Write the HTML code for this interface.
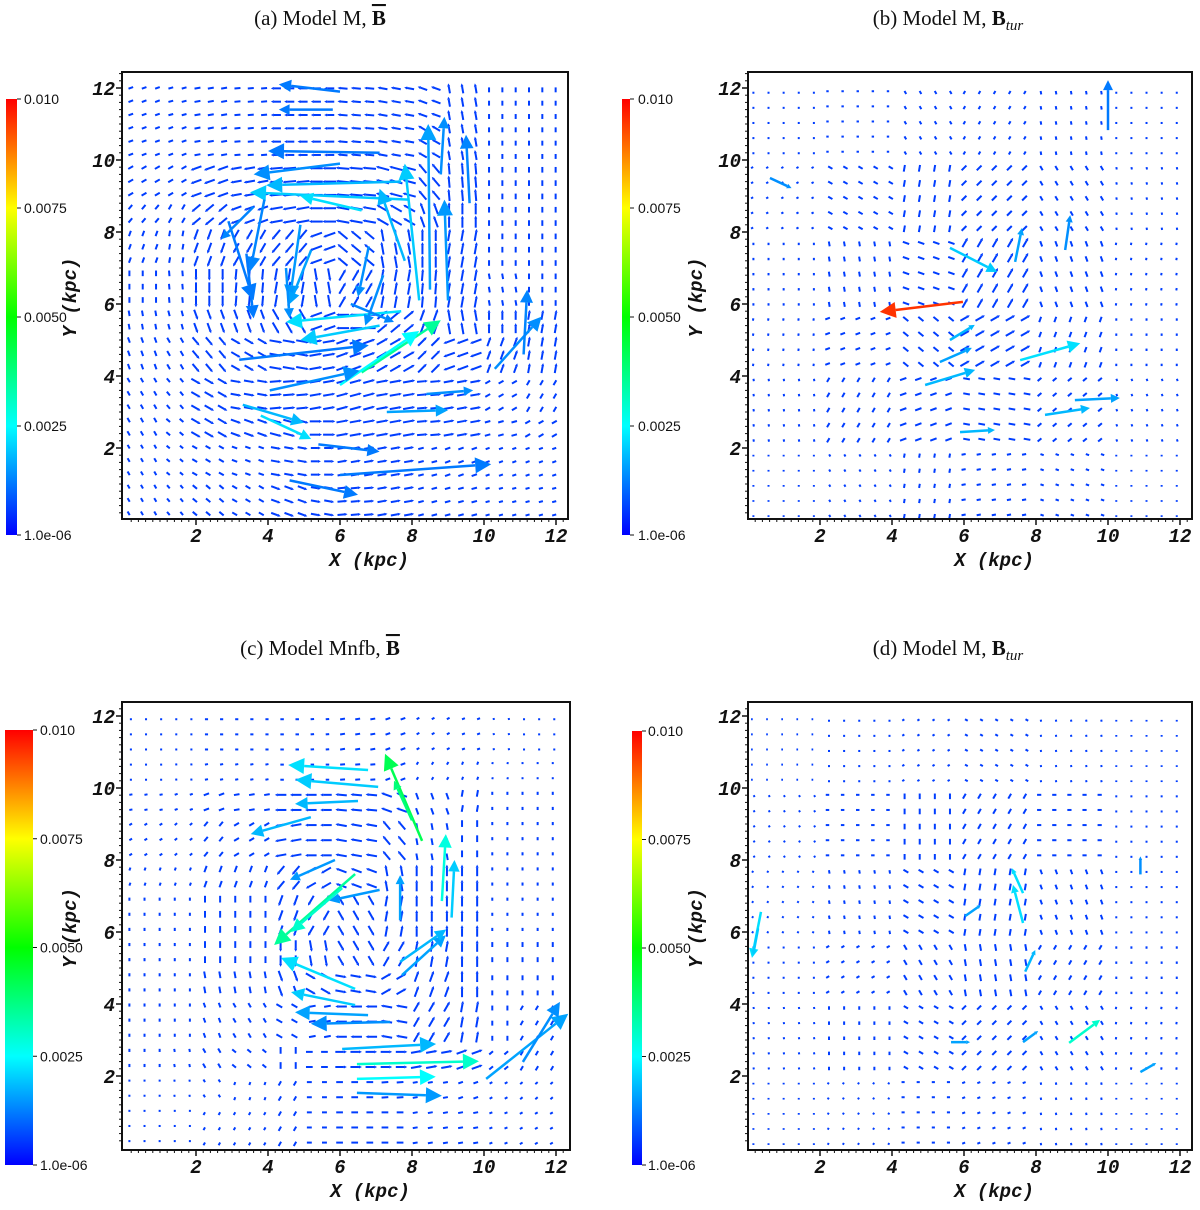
<!DOCTYPE html>
<html><head><meta charset="utf-8"><style>
html,body{margin:0;padding:0;background:#fff;}
svg text{font-family:"Liberation Sans",sans-serif;}
.tick{font-family:"Liberation Mono",monospace;font-weight:bold;font-style:italic;font-size:19px;fill:#111;}
.ax{font-family:"Liberation Mono",monospace;font-weight:bold;font-style:italic;font-size:19px;fill:#111;}
.cb{font-family:"Liberation Sans",sans-serif;font-size:14px;fill:#111;}
.ttl{font-family:"Liberation Serif",serif;font-size:21px;fill:#111;}
</style></head><body>
<svg id="fig" width="1200" height="1205" viewBox="0 0 1200 1205" xmlns="http://www.w3.org/2000/svg">
<defs>
<linearGradient id="jet" x1="0" y1="1" x2="0" y2="0">
<stop offset="0" stop-color="#0000ff"/><stop offset="0.25" stop-color="#00ffff"/><stop offset="0.5" stop-color="#00ff00"/><stop offset="0.75" stop-color="#ffff00"/><stop offset="1" stop-color="#ff0000"/>
</linearGradient>
</defs>
<text class="ttl" x="320" y="25" text-anchor="middle">(a) Model M, <tspan font-weight="bold" text-decoration="overline">B</tspan></text>
<text class="ttl" x="948" y="25" text-anchor="middle">(b) Model M, <tspan font-weight="bold">B</tspan><tspan font-style="italic" font-size="15" dy="5">tur</tspan></text>
<text class="ttl" x="320" y="655" text-anchor="middle">(c) Model Mnfb, <tspan font-weight="bold" text-decoration="overline">B</tspan></text>
<text class="ttl" x="948" y="655" text-anchor="middle">(d) Model M, <tspan font-weight="bold">B</tspan><tspan font-style="italic" font-size="15" dy="5">tur</tspan></text>
</svg>
<script>
// ---- data ----
const xTicks = [2,4,6,8,10,12];
const yTicks = [2,4,6,8,10,12];
const cbLabels = ["1.0e-06","0.0025","0.0050","0.0075","0.010"];
const cbValues = [0,0.0025,0.005,0.0075,0.01];
// background field angles (deg), rows top->bottom
const angA = [
[200,195,190,185,180,180,175,170,160,100,90,90],
[200,200,190,185,180,180,175,170,150,100,90,90],
[210,210,200,190,185,180,175,165,130,95,90,90],
[230,240,220,200,190,180,170,150,110,90,90,90],
[250,260,250,240,230,200,140,100,90,80,90,90],
[270,275,270,265,260,280,60,80,85,80,100,90],
[280,285,290,290,300,200,180,40,70,100,90,80],
[290,300,310,330,350,10,20,30,45,200,70,80],
[300,310,330,350,5,10,15,10,5,10,30,60],
[300,320,330,340,345,0,10,10,5,10,15,30],
[300,320,330,340,350,0,10,10,15,20,20,20],
[300,310,320,330,340,350,5,10,15,15,15,15]];
const magA = [[0.22,0.25,0.28,0.28,0.28,0.22],[0.24,0.32,0.38,0.38,0.34,0.24],[0.24,0.32,0.36,0.36,0.34,0.24],[0.24,0.3,0.36,0.36,0.34,0.28],[0.22,0.3,0.34,0.34,0.3,0.24],[0.2,0.24,0.28,0.28,0.24,0.2]];
const angB = [[90,0,120,60,100,90],[30,150,80,45,120,100],[90,100,160,60,110,80],[80,20,140,30,70,90],[100,60,20,170,40,110],[90,120,80,10,160,90]];
const magB = [[0.14,0.15,0.18,0.18,0.18,0.14],[0.15,0.22,0.27,0.27,0.22,0.15],[0.15,0.22,0.27,0.3,0.24,0.15],[0.15,0.22,0.27,0.3,0.24,0.15],[0.15,0.22,0.27,0.27,0.22,0.15],[0.13,0.15,0.2,0.2,0.18,0.13]];
const angC = [
[180,180,180,180,180,185,190,200,210,200,190,180],
[180,185,190,190,180,180,185,200,240,250,260,270],
[190,200,200,190,180,180,175,160,110,260,270,270],
[210,220,230,210,190,180,170,130,100,270,270,270],
[250,250,250,250,230,210,160,100,90,90,270,270],
[270,270,270,270,250,240,300,80,90,90,270,270],
[270,270,270,270,270,280,300,60,80,90,270,270],
[270,270,280,280,290,330,350,30,70,90,90,90],
[270,270,290,300,330,190,180,170,60,80,90,60],
[270,280,300,320,270,0,0,0,10,20,40,60],
[270,280,300,70,60,0,0,5,10,20,30,40],
[270,270,60,60,60,0,0,0,10,10,20,30]];
const magC = [[0.14,0.17,0.18,0.22,0.17,0.14],[0.17,0.24,0.32,0.32,0.27,0.17],[0.17,0.27,0.32,0.32,0.32,0.17],[0.17,0.27,0.32,0.32,0.32,0.22],[0.17,0.22,0.27,0.32,0.32,0.22],[0.14,0.17,0.22,0.27,0.22,0.17]];
const angD = [[0,90,30,150,100,90],[120,0,90,60,0,90],[60,100,150,80,110,90],[90,30,120,100,60,90],[100,90,150,45,120,80],[90,60,0,20,100,90]];
const magD = [[0.13,0.14,0.15,0.17,0.14,0.13],[0.14,0.18,0.24,0.24,0.2,0.14],[0.14,0.18,0.24,0.27,0.22,0.14],[0.14,0.18,0.24,0.27,0.22,0.15],[0.14,0.18,0.22,0.24,0.2,0.15],[0.13,0.14,0.17,0.17,0.15,0.13]];
// strong arrows: [x, y, u, v, magnitude] in kpc
const strongA = [[7.1,10.2,-3.1,0.05,0.0012],[7.7,9.4,-3.75,-0.1,0.0018],[7.9,8.9,-4.4,0.2,0.002],[6.0,11.9,-1.7,0.2,0.0012],[5.8,11.4,-1.5,0,0.0012],[8.5,6.4,-0.05,4.6,0.0016],[9.0,6.1,-0.1,2.8,0.0015],[8.2,6.1,-0.4,3.8,0.002],[7.8,7.2,-0.7,2.0,0.0018],[2.9,8.3,0.7,-2.2,0.0012],[3.9,8.9,-0.4,-2.0,0.0013],[4.9,8.2,-0.3,-2.1,0.0015],[7.7,5.8,-3.2,-0.3,0.0022],[7.1,5.4,-2.2,-0.4,0.002],[6.6,4.1,2.2,1.45,0.0035],[6.0,3.75,2.2,1.5,0.0025],[3.2,4.45,3.6,0.4,0.0012],[4.05,3.6,2.5,0.55,0.0014],[3.3,3.2,1.7,-0.5,0.0018],[3.8,2.9,1.4,-0.65,0.0022],[4.6,1.1,1.9,-0.4,0.0012],[6.0,1.25,4.2,0.3,0.0012],[8.4,3.5,1.3,0.1,0.0014],[7.3,3.0,1.7,0.05,0.0016],[10.3,4.2,1.3,1.45,0.0014],[11.1,4.6,0.1,1.8,0.0013],[6.6,8.6,-1.7,0.4,0.0022],[5.2,7.5,-0.6,-1.5,0.0016],[4.5,7.0,0.1,-1.4,0.0014],[6.0,9.9,-2.4,-0.3,0.0014],[3.6,8.7,-0.9,-0.9,0.0013],[3.4,7.4,0.2,-1.8,0.0012],[6.8,7.6,-0.3,-1.4,0.0014],[7.2,6.8,-0.5,-1.4,0.0014],[6.3,6.0,1.2,-0.5,0.0013],[5.4,2.1,1.7,-0.2,0.0012],[8.8,9.6,0.1,1.6,0.0014],[9.6,8.8,-0.1,1.9,0.0013]];
const strongB = [[5.97,6.06,-2.31,-0.28,0.0095],[5.61,7.56,1.31,-0.67,0.002],[4.92,3.75,1.39,0.42,0.0018],[7.56,4.44,1.67,0.47,0.0022],[8.25,2.92,1.25,0.19,0.0018],[5.89,2.44,0.97,0.06,0.0018],[7.42,7.17,0.19,0.94,0.0016],[5.61,5.0,0.69,0.42,0.0018],[5.33,4.39,0.89,0.39,0.0016],[10.0,10.83,0,1.39,0.0012],[8.81,7.5,0.14,0.97,0.0014],[0.61,9.5,0.6,-0.28,0.0014],[9.08,3.33,1.25,0.06,0.0016]];
const strongC = [[6.47,2.33,3.39,0.08,0.003],[6.47,1.92,2.19,0.06,0.0025],[6.06,2.75,2.61,0.14,0.0018],[6.47,1.53,2.36,-0.08,0.0015],[10.06,1.92,2.28,1.81,0.0016],[11.08,2.39,1.03,1.67,0.0014],[6.78,10.5,-2.22,0.14,0.0022],[7.06,10.03,-2.3,0.2,0.002],[6.5,9.64,-1.75,-0.08,0.0018],[8.28,8.53,-1.03,2.42,0.0042],[8.0,9.1,-0.5,1.1,0.0038],[8.83,6.86,0.11,1.86,0.0028],[9.1,6.4,0.08,1.6,0.002],[6.42,7.61,-2.25,-1.97,0.0035],[6.06,7.22,-1.42,-1.22,0.003],[6.42,4.42,-2.06,0.86,0.0022],[6.42,3.97,-1.78,0.36,0.002],[6.78,3.69,-2.03,0.08,0.0016],[7.39,3.5,-2.2,-0.05,0.0014],[7.72,4.8,1.22,1.11,0.0016],[7.67,5.17,1.28,0.9,0.0018],[5.19,9.19,-1.67,-0.47,0.0018],[5.86,8.0,-1.25,-0.55,0.0015],[7.1,7.17,-1.4,-0.3,0.0015],[7.67,6.33,0,1.25,0.0016]];
const strongD = [[0.36,6.56,-0.25,-1.28,0.0022],[0.28,6.1,-0.14,-0.75,0.002],[8.92,2.92,0.86,0.64,0.003],[7.64,7.08,-0.31,0.69,0.0022],[7.64,6.25,-0.28,1.06,0.0022],[7.7,4.9,0.28,0.6,0.0018],[6.03,6.44,0.44,0.31,0.0016],[7.64,2.94,0.42,0.31,0.0016],[10.9,2.11,0.44,0.25,0.0016],[5.64,2.94,0.53,0,0.0016],[10.9,7.6,0,0.5,0.0014]];

const panels = [
 {id:'a',box:[122,72,568,519],x0:124,y0:520,ang:angA,mag:magA,strong:strongA,step:0.37,cb:[6,99,11,436],cbx:24,ylab:70},
 {id:'b',box:[748,72,1192,519],x0:748,y0:520,ang:angB,mag:magB,strong:strongB,step:0.42,cb:[622,99,8,436],cbx:638,ylab:696},
 {id:'c',box:[122,702,570,1150],x0:124,y0:1148,ang:angC,mag:magC,strong:strongC,step:0.42,cb:[5,730,28,435],cbx:40,ylab:70},
 {id:'d',box:[748,702,1192,1150],x0:748,y0:1148,ang:angD,mag:magD,strong:strongD,step:0.42,cb:[632,731,10,434],cbx:648,ylab:696}
];
const PX = 36;
const NS = 'http://www.w3.org/2000/svg';
const svg = document.getElementById('fig');
function mk(tag, attrs, parent){const e=document.createElementNS(NS,tag);for(const k in attrs)e.setAttribute(k,attrs[k]);(parent||svg).appendChild(e);return e;}
function jet(v){const t=Math.max(0,Math.min(1,v/0.01));const st=[[0,0,0,255],[0.25,0,255,255],[0.5,0,255,0],[0.75,255,255,0],[1,255,0,0]];
 for(let i=0;i<4;i++){if(t<=st[i+1][0]){const f=(t-st[i][0])/(st[i+1][0]-st[i][0]);const c=[1,2,3].map(j=>Math.round(st[i][j]+(st[i+1][j]-st[i][j])*f));return `rgb(${c[0]},${c[1]},${c[2]})`;}}return 'rgb(255,0,0)';}
function cell(arr,x,y){const n=arr.length,s=12/n;const c=Math.max(0,Math.min(n-1,Math.floor(x/s))),r=Math.max(0,Math.min(n-1,Math.floor((12-y)/s)));return arr[r][c];}

function drawArrow(g,p,x,y,u,v,m,name,sw){
 const sx=p.x0+x*PX, sy=p.y0-y*PX, ex=sx+u*PX, ey=sy-v*PX;
 const L=Math.hypot(ex-sx,ey-sy); if(L<0.5) return;
 const col=jet(m);
 const ux=(ex-sx)/L, uy=(ey-sy)/L;
 const hl=Math.min(16,Math.max(3,L*0.2)), hw=hl*0.5;
 const bx=ex-ux*hl, by=ey-uy*hl;
 const ln=mk('line',{x1:sx,y1:sy,x2:bx,y2:by,stroke:col,'stroke-width':sw,'stroke-linecap':'butt'},g);
 
 
 if(L>10){
  const hd=mk('polygon',{points:`${ex},${ey} ${bx-uy*hw},${by+ux*hw} ${bx+uy*hw},${by-ux*hw}`,fill:col},g);
  
  
 }
}

panels.forEach(p=>{
 const [bx0,by0,bx1,by1]=p.box;
 const g=mk('g',{});
 
 
 const fg=mk('g',{},g);
 
 
 for(let x=0.15;x<12.3;x+=p.step){
  for(let y=0.15;y<12.3;y+=p.step){
   const a=cell(p.ang,x,y)*Math.PI/180, L=cell(p.mag,x,y);
   drawArrow(fg,p,x-Math.cos(a)*L/2,y-Math.sin(a)*L/2,Math.cos(a)*L,Math.sin(a)*L,0.0006,'field-arrow',2);
  }
 }
 p.strong.forEach(s=>drawArrow(fg,p,s[0],s[1],s[2],s[3],s[4],'strong-arrow',2.5));
 const fr=mk('rect',{x:bx0,y:by0,width:bx1-bx0,height:by1-by0,fill:'none',stroke:'#111','stroke-width':2},g);
 
 
 for(let t=0.2;t<12.4;t+=0.2){
  const px=p.x0+t*PX; if(px<bx1) mk('line',{x1:px,y1:by1,x2:px,y2:by1+3,stroke:'#111','stroke-width':1},g);
  const py=p.y0-t*PX; if(py>by0) mk('line',{x1:bx0,y1:py,x2:bx0-3,y2:py,stroke:'#111','stroke-width':1},g);
 }
 xTicks.forEach(t=>{const px=p.x0+t*PX;
  mk('line',{x1:px,y1:by1,x2:px,y2:by1+6,stroke:'#111','stroke-width':1.5},g);
  const tx=mk('text',{x:px,y:by1+23,class:'tick','text-anchor':'middle'},g);tx.textContent=t;
  
  
 });
 yTicks.forEach(t=>{const py=p.y0-t*PX;
  mk('line',{x1:bx0,y1:py,x2:bx0-6,y2:py,stroke:'#111','stroke-width':1.5},g);
  const tx=mk('text',{x:bx0-7,y:py+7,class:'tick','text-anchor':'end'},g);tx.textContent=t;
  
  
 });
 const xl=mk('text',{x:(bx0+bx1)/2+24,y:by1+47,class:'ax','text-anchor':'middle'},g);xl.textContent='X (kpc)';
 
 
 const yc=(by0+by1)/2+2;
 const yl=mk('text',{x:p.ylab+6,y:yc,class:'ax','text-anchor':'middle',transform:`rotate(-90 ${p.ylab+6} ${yc})`},g);yl.textContent='Y (kpc)';
 
 
 const [cx,cy,cw,ch]=p.cb;
 const cbr=mk('rect',{x:cx,y:cy,width:cw,height:ch,fill:'url(#jet)'},g);
 
 
 cbValues.forEach((v,i)=>{const py=cy+ch-(v/0.01)*ch;
  mk('line',{x1:cx+cw,y1:py,x2:cx+cw+4,y2:py,stroke:'#111','stroke-width':1},g);
  const t=mk('text',{x:p.cbx,y:py+5,class:'cb'},g);t.textContent=cbLabels[i];
  
  
 });
});
</script>
</body></html>
